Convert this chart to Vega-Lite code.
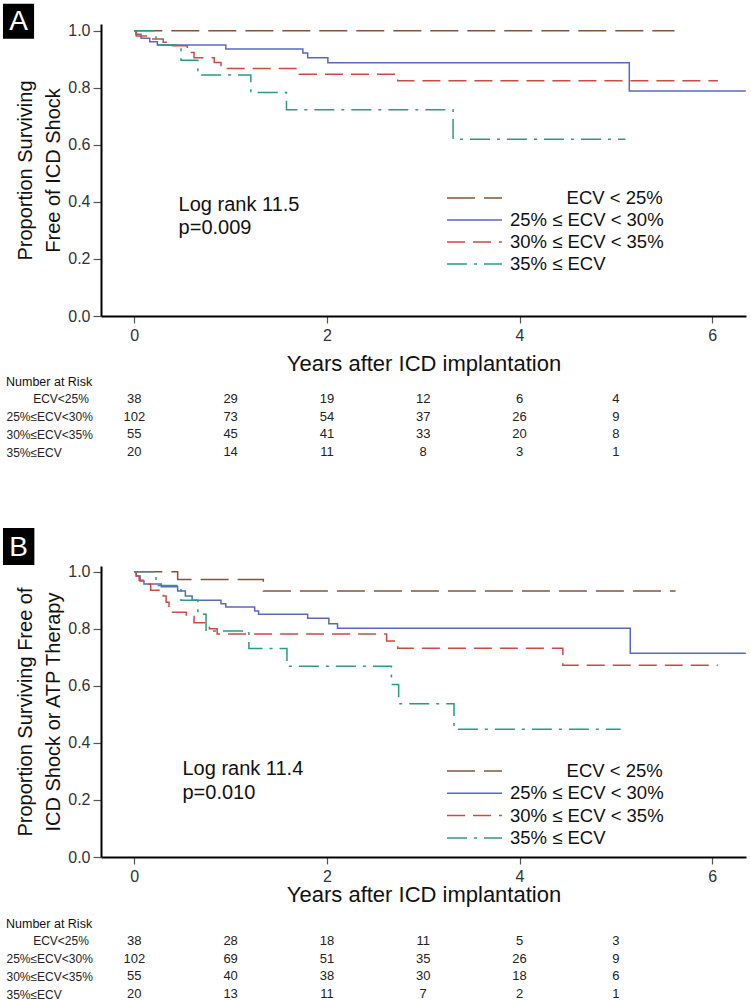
{
  "$schema": "https://vega.github.io/schema/vega-lite/v6.json",
  "padding": {"left": 2, "top": 3, "right": 0, "bottom": 0},
  "background": "white",
  "datasets": {
    "km": [
      {"panel": "A", "group": "ECV < 25%", "t": 0, "s": 1},
      {"panel": "A", "group": "ECV < 25%", "t": 5.61, "s": 1},
      {"panel": "A", "group": "25% ≤ ECV < 30%", "t": 0, "s": 1},
      {"panel": "A", "group": "25% ≤ ECV < 30%", "t": 0.017, "s": 0.988},
      {"panel": "A", "group": "25% ≤ ECV < 30%", "t": 0.07, "s": 0.974},
      {"panel": "A", "group": "25% ≤ ECV < 30%", "t": 0.16, "s": 0.962},
      {"panel": "A", "group": "25% ≤ ECV < 30%", "t": 0.24, "s": 0.95},
      {"panel": "A", "group": "25% ≤ ECV < 30%", "t": 0.95, "s": 0.936},
      {"panel": "A", "group": "25% ≤ ECV < 30%", "t": 1.75, "s": 0.922},
      {"panel": "A", "group": "25% ≤ ECV < 30%", "t": 1.8, "s": 0.906},
      {"panel": "A", "group": "25% ≤ ECV < 30%", "t": 2.01, "s": 0.888},
      {"panel": "A", "group": "25% ≤ ECV < 30%", "t": 5.14, "s": 0.789},
      {"panel": "A", "group": "25% ≤ ECV < 30%", "t": 6.35, "s": 0.789},
      {"panel": "A", "group": "30% ≤ ECV < 35%", "t": 0, "s": 1},
      {"panel": "A", "group": "30% ≤ ECV < 35%", "t": 0.02, "s": 0.982},
      {"panel": "A", "group": "30% ≤ ECV < 35%", "t": 0.17, "s": 0.971},
      {"panel": "A", "group": "30% ≤ ECV < 35%", "t": 0.3, "s": 0.96},
      {"panel": "A", "group": "30% ≤ ECV < 35%", "t": 0.36, "s": 0.948},
      {"panel": "A", "group": "30% ≤ ECV < 35%", "t": 0.55, "s": 0.924},
      {"panel": "A", "group": "30% ≤ ECV < 35%", "t": 0.62, "s": 0.906},
      {"panel": "A", "group": "30% ≤ ECV < 35%", "t": 0.83, "s": 0.889},
      {"panel": "A", "group": "30% ≤ ECV < 35%", "t": 0.9, "s": 0.868},
      {"panel": "A", "group": "30% ≤ ECV < 35%", "t": 1.71, "s": 0.848},
      {"panel": "A", "group": "30% ≤ ECV < 35%", "t": 2.735, "s": 0.825},
      {"panel": "A", "group": "30% ≤ ECV < 35%", "t": 6.06, "s": 0.825},
      {"panel": "A", "group": "35% ≤ ECV", "t": 0, "s": 1},
      {"panel": "A", "group": "35% ≤ ECV", "t": 0.225, "s": 0.95},
      {"panel": "A", "group": "35% ≤ ECV", "t": 0.485, "s": 0.897},
      {"panel": "A", "group": "35% ≤ ECV", "t": 0.66, "s": 0.845},
      {"panel": "A", "group": "35% ≤ ECV", "t": 1.21, "s": 0.784},
      {"panel": "A", "group": "35% ≤ ECV", "t": 1.58, "s": 0.723},
      {"panel": "A", "group": "35% ≤ ECV", "t": 3.31, "s": 0.62},
      {"panel": "A", "group": "35% ≤ ECV", "t": 5.1, "s": 0.62},
      {"panel": "B", "group": "ECV < 25%", "t": 0, "s": 1},
      {"panel": "B", "group": "ECV < 25%", "t": 0.45, "s": 0.973},
      {"panel": "B", "group": "ECV < 25%", "t": 1.34, "s": 0.932},
      {"panel": "B", "group": "ECV < 25%", "t": 5.62, "s": 0.932},
      {"panel": "B", "group": "25% ≤ ECV < 30%", "t": 0, "s": 1},
      {"panel": "B", "group": "25% ≤ ECV < 30%", "t": 0.02, "s": 0.985},
      {"panel": "B", "group": "25% ≤ ECV < 30%", "t": 0.06, "s": 0.967},
      {"panel": "B", "group": "25% ≤ ECV < 30%", "t": 0.1, "s": 0.957},
      {"panel": "B", "group": "25% ≤ ECV < 30%", "t": 0.28, "s": 0.947},
      {"panel": "B", "group": "25% ≤ ECV < 30%", "t": 0.45, "s": 0.932},
      {"panel": "B", "group": "25% ≤ ECV < 30%", "t": 0.53, "s": 0.915},
      {"panel": "B", "group": "25% ≤ ECV < 30%", "t": 0.6, "s": 0.9},
      {"panel": "B", "group": "25% ≤ ECV < 30%", "t": 0.9, "s": 0.888},
      {"panel": "B", "group": "25% ≤ ECV < 30%", "t": 0.95, "s": 0.876},
      {"panel": "B", "group": "25% ≤ ECV < 30%", "t": 1.25, "s": 0.862},
      {"panel": "B", "group": "25% ≤ ECV < 30%", "t": 1.29, "s": 0.851},
      {"panel": "B", "group": "25% ≤ ECV < 30%", "t": 1.8, "s": 0.837},
      {"panel": "B", "group": "25% ≤ ECV < 30%", "t": 2.02, "s": 0.818},
      {"panel": "B", "group": "25% ≤ ECV < 30%", "t": 2.11, "s": 0.802},
      {"panel": "B", "group": "25% ≤ ECV < 30%", "t": 5.15, "s": 0.714},
      {"panel": "B", "group": "25% ≤ ECV < 30%", "t": 6.35, "s": 0.714},
      {"panel": "B", "group": "30% ≤ ECV < 35%", "t": 0, "s": 1},
      {"panel": "B", "group": "30% ≤ ECV < 35%", "t": 0.02, "s": 0.985},
      {"panel": "B", "group": "30% ≤ ECV < 35%", "t": 0.05, "s": 0.97},
      {"panel": "B", "group": "30% ≤ ECV < 35%", "t": 0.1, "s": 0.956},
      {"panel": "B", "group": "30% ≤ ECV < 35%", "t": 0.17, "s": 0.935},
      {"panel": "B", "group": "30% ≤ ECV < 35%", "t": 0.3, "s": 0.915},
      {"panel": "B", "group": "30% ≤ ECV < 35%", "t": 0.33, "s": 0.893},
      {"panel": "B", "group": "30% ≤ ECV < 35%", "t": 0.36, "s": 0.858},
      {"panel": "B", "group": "30% ≤ ECV < 35%", "t": 0.54, "s": 0.843},
      {"panel": "B", "group": "30% ≤ ECV < 35%", "t": 0.62, "s": 0.821},
      {"panel": "B", "group": "30% ≤ ECV < 35%", "t": 0.78, "s": 0.8},
      {"panel": "B", "group": "30% ≤ ECV < 35%", "t": 0.86, "s": 0.782},
      {"panel": "B", "group": "30% ≤ ECV < 35%", "t": 2.62, "s": 0.757},
      {"panel": "B", "group": "30% ≤ ECV < 35%", "t": 2.735, "s": 0.732},
      {"panel": "B", "group": "30% ≤ ECV < 35%", "t": 4.45, "s": 0.672},
      {"panel": "B", "group": "30% ≤ ECV < 35%", "t": 6.06, "s": 0.672},
      {"panel": "B", "group": "35% ≤ ECV", "t": 0, "s": 1},
      {"panel": "B", "group": "35% ≤ ECV", "t": 0.225, "s": 0.952},
      {"panel": "B", "group": "35% ≤ ECV", "t": 0.485, "s": 0.9},
      {"panel": "B", "group": "35% ≤ ECV", "t": 0.66, "s": 0.851},
      {"panel": "B", "group": "35% ≤ ECV", "t": 0.745, "s": 0.792},
      {"panel": "B", "group": "35% ≤ ECV", "t": 1.19, "s": 0.731},
      {"panel": "B", "group": "35% ≤ ECV", "t": 1.585, "s": 0.669},
      {"panel": "B", "group": "35% ≤ ECV", "t": 2.67, "s": 0.605},
      {"panel": "B", "group": "35% ≤ ECV", "t": 2.745, "s": 0.537},
      {"panel": "B", "group": "35% ≤ ECV", "t": 3.32, "s": 0.448},
      {"panel": "B", "group": "35% ≤ ECV", "t": 5.05, "s": 0.448}
    ],
    "risk": [
      {"panel": "A", "row": "ECV<25%", "t": 0, "n": 38},
      {"panel": "A", "row": "ECV<25%", "t": 1, "n": 29},
      {"panel": "A", "row": "ECV<25%", "t": 2, "n": 19},
      {"panel": "A", "row": "ECV<25%", "t": 3, "n": 12},
      {"panel": "A", "row": "ECV<25%", "t": 4, "n": 6},
      {"panel": "A", "row": "ECV<25%", "t": 5, "n": 4},
      {"panel": "A", "row": "25%≤ECV<30%", "t": 0, "n": 102},
      {"panel": "A", "row": "25%≤ECV<30%", "t": 1, "n": 73},
      {"panel": "A", "row": "25%≤ECV<30%", "t": 2, "n": 54},
      {"panel": "A", "row": "25%≤ECV<30%", "t": 3, "n": 37},
      {"panel": "A", "row": "25%≤ECV<30%", "t": 4, "n": 26},
      {"panel": "A", "row": "25%≤ECV<30%", "t": 5, "n": 9},
      {"panel": "A", "row": "30%≤ECV<35%", "t": 0, "n": 55},
      {"panel": "A", "row": "30%≤ECV<35%", "t": 1, "n": 45},
      {"panel": "A", "row": "30%≤ECV<35%", "t": 2, "n": 41},
      {"panel": "A", "row": "30%≤ECV<35%", "t": 3, "n": 33},
      {"panel": "A", "row": "30%≤ECV<35%", "t": 4, "n": 20},
      {"panel": "A", "row": "30%≤ECV<35%", "t": 5, "n": 8},
      {"panel": "A", "row": "35%≤ECV", "t": 0, "n": 20},
      {"panel": "A", "row": "35%≤ECV", "t": 1, "n": 14},
      {"panel": "A", "row": "35%≤ECV", "t": 2, "n": 11},
      {"panel": "A", "row": "35%≤ECV", "t": 3, "n": 8},
      {"panel": "A", "row": "35%≤ECV", "t": 4, "n": 3},
      {"panel": "A", "row": "35%≤ECV", "t": 5, "n": 1},
      {"panel": "B", "row": "ECV<25%", "t": 0, "n": 38},
      {"panel": "B", "row": "ECV<25%", "t": 1, "n": 28},
      {"panel": "B", "row": "ECV<25%", "t": 2, "n": 18},
      {"panel": "B", "row": "ECV<25%", "t": 3, "n": 11},
      {"panel": "B", "row": "ECV<25%", "t": 4, "n": 5},
      {"panel": "B", "row": "ECV<25%", "t": 5, "n": 3},
      {"panel": "B", "row": "25%≤ECV<30%", "t": 0, "n": 102},
      {"panel": "B", "row": "25%≤ECV<30%", "t": 1, "n": 69},
      {"panel": "B", "row": "25%≤ECV<30%", "t": 2, "n": 51},
      {"panel": "B", "row": "25%≤ECV<30%", "t": 3, "n": 35},
      {"panel": "B", "row": "25%≤ECV<30%", "t": 4, "n": 26},
      {"panel": "B", "row": "25%≤ECV<30%", "t": 5, "n": 9},
      {"panel": "B", "row": "30%≤ECV<35%", "t": 0, "n": 55},
      {"panel": "B", "row": "30%≤ECV<35%", "t": 1, "n": 40},
      {"panel": "B", "row": "30%≤ECV<35%", "t": 2, "n": 38},
      {"panel": "B", "row": "30%≤ECV<35%", "t": 3, "n": 30},
      {"panel": "B", "row": "30%≤ECV<35%", "t": 4, "n": 18},
      {"panel": "B", "row": "30%≤ECV<35%", "t": 5, "n": 6},
      {"panel": "B", "row": "35%≤ECV", "t": 0, "n": 20},
      {"panel": "B", "row": "35%≤ECV", "t": 1, "n": 13},
      {"panel": "B", "row": "35%≤ECV", "t": 2, "n": 11},
      {"panel": "B", "row": "35%≤ECV", "t": 3, "n": 7},
      {"panel": "B", "row": "35%≤ECV", "t": 4, "n": 2},
      {"panel": "B", "row": "35%≤ECV", "t": 5, "n": 1}
    ],
    "notes": [
      {"panel": "A", "letter": "A", "stat": "Log rank 11.5\np=0.009"},
      {"panel": "B", "letter": "B", "stat": "Log rank 11.4\np=0.010"}
    ]
  },
  "spacing": 67,
  "vconcat": [
    {
      "spacing": 1,
      "vconcat": [
        {
          "width": 645,
          "height": 292,
          "layer": [
            {
              "data": {"name": "km"},
              "transform": [{"filter": "datum.panel == 'A'"}],
              "mark": {"type": "line", "interpolate": "step-after", "strokeWidth": 1.5},
              "encoding": {
                "x": {"field": "t", "type": "quantitative", "scale": {"domain": [-0.346, 6.352], "nice": false, "zero": false},
                  "axis": {"values": [0, 2, 4, 6], "format": "d", "title": "Years after ICD implantation", "titleFontSize": 22, "titlePadding": 10, "labelPadding": 4}},
                "y": {"field": "s", "type": "quantitative", "scale": {"domain": [0, 1.024], "nice": false},
                  "axis": {"values": [0, 0.2, 0.4, 0.6, 0.8, 1], "format": ".1f", "title": ["Proportion Surviving", "Free of ICD Shock"], "titleFontSize": 20, "titleLineHeight": 28, "titlePadding": 4, "tickSize": 8, "labelPadding": 3}},
                "stroke": {"field": "group", "type": "nominal",
                  "scale": {"domain": ["ECV < 25%", "25% ≤ ECV < 30%", "30% ≤ ECV < 35%", "35% ≤ ECV"], "range": ["#82553a", "#5868c0", "#cc4a42", "#2a9a82"]},
                  "legend": {"orient": "none", "legendX": 361.5, "legendY": 162, "title": null, "symbolType": "M-2.5,0H2.5", "symbolSize": 484, "symbolStrokeWidth": 1.5, "labelFontSize": 18.5, "labelColor": "#111", "labelOffset": 23.5, "rowPadding": 0, "padding": 0,
                    "labelExpr": "datum.label == 'ECV < 25%' ? '\u200b\u00a0\u00a0\u00a0\u00a0\u00a0\u00a0\u00a0\u00a0\u00a0\u00a0\u00a0' + datum.label : datum.label"}},
                "strokeDash": {"field": "group", "type": "nominal",
                  "scale": {"domain": ["ECV < 25%", "25% ≤ ECV < 30%", "30% ≤ ECV < 35%", "35% ≤ ECV"], "range": [[28, 9], [1, 0], [18, 8], [20, 7, 3, 7]]},
                  "legend": {"orient": "none", "legendX": 361.5, "legendY": 162, "title": null, "symbolType": "M-2.5,0H2.5", "symbolSize": 484, "symbolStrokeWidth": 1.5, "labelFontSize": 18.5, "labelColor": "#111", "labelOffset": 23.5, "rowPadding": 0, "padding": 0,
                    "labelExpr": "datum.label == 'ECV < 25%' ? '\u200b\u00a0\u00a0\u00a0\u00a0\u00a0\u00a0\u00a0\u00a0\u00a0\u00a0\u00a0' + datum.label : datum.label"}}
              }
            },
            {
              "data": {"name": "notes"},
              "transform": [{"filter": "datum.panel == 'A'"}],
              "mark": {"type": "text", "align": "left", "baseline": "alphabetic", "fontSize": 20, "lineHeight": 23, "lineBreak": "\n", "color": "#111"},
              "encoding": {"x": {"datum": 0.46}, "y": {"datum": 0.368}, "text": {"field": "stat"}}
            },
            {
              "data": {"name": "notes"},
              "transform": [{"filter": "datum.panel == 'A'"}],
              "mark": {"type": "rect", "color": "#000"},
              "encoding": {"x": {"datum": -1.364}, "x2": {"datum": -1.041}, "y": {"datum": 1.095}, "y2": {"datum": 0.972}}
            },
            {
              "data": {"name": "notes"},
              "transform": [{"filter": "datum.panel == 'A'"}],
              "mark": {"type": "text", "align": "center", "baseline": "middle", "fontSize": 28, "color": "#fff", "dy": 1},
              "encoding": {"x": {"datum": -1.2025}, "y": {"datum": 1.034}, "text": {"field": "letter"}}
            }
          ]
        },
        {
          "width": 645,
          "height": 71,
          "title": {"text": "Number at Risk", "anchor": "start", "frame": "bounds", "fontSize": 12.5, "fontWeight": "normal", "font": "Liberation Sans", "color": "#111", "offset": 2},
          "data": {"name": "risk"},
          "transform": [{"filter": "datum.panel == 'A'"}],
          "mark": {"type": "text", "fontSize": 13, "font": "Liberation Sans", "color": "#222"},
          "encoding": {
            "x": {"field": "t", "type": "quantitative", "scale": {"domain": [-0.346, 6.352], "nice": false, "zero": false}, "axis": null},
            "y": {"field": "row", "type": "nominal", "sort": ["ECV<25%", "25%≤ECV<30%", "30%≤ECV<35%", "35%≤ECV"],
              "axis": {"title": null, "domain": false, "ticks": false, "labelAlign": "left", "labelPadding": 95, "labelFontSize": 12, "labelFont": "Liberation Sans", "labelColor": "#222",
                "labelExpr": "datum.label == 'ECV<25%' ? '\u200b\u00a0\u00a0\u00a0\u00a0\u00a0\u00a0\u00a0\u00a0' + datum.label : datum.label"}},
            "text": {"field": "n", "type": "quantitative"}
          }
        }
      ]
    },
    {
      "spacing": 12,
      "vconcat": [
        {
          "width": 645,
          "height": 291,
          "layer": [
            {
              "data": {"name": "km"},
              "transform": [{"filter": "datum.panel == 'B'"}],
              "mark": {"type": "line", "interpolate": "step-after", "strokeWidth": 1.5},
              "encoding": {
                "x": {"field": "t", "type": "quantitative", "scale": {"domain": [-0.346, 6.352], "nice": false, "zero": false},
                  "axis": {"values": [0, 2, 4, 6], "format": "d", "title": "Years after ICD implantation", "titleFontSize": 22, "titlePadding": 0, "labelPadding": 4}},
                "y": {"field": "s", "type": "quantitative", "scale": {"domain": [0, 1.02], "nice": false},
                  "axis": {"values": [0, 0.2, 0.4, 0.6, 0.8, 1], "format": ".1f", "title": ["Proportion Surviving Free of", "ICD Shock or ATP Therapy"], "titleFontSize": 20, "titleLineHeight": 28, "titlePadding": 4, "tickSize": 8, "labelPadding": 3}},
                "stroke": {"field": "group", "type": "nominal",
                  "scale": {"domain": ["ECV < 25%", "25% ≤ ECV < 30%", "30% ≤ ECV < 35%", "35% ≤ ECV"], "range": ["#82553a", "#5868c0", "#cc4a42", "#2a9a82"]},
                  "legend": {"orient": "none", "legendX": 361.5, "legendY": 193, "title": null, "symbolType": "M-2.5,0H2.5", "symbolSize": 484, "symbolStrokeWidth": 1.5, "labelFontSize": 18.5, "labelColor": "#111", "labelOffset": 23.5, "rowPadding": 0.3, "padding": 0,
                    "labelExpr": "datum.label == 'ECV < 25%' ? '\u200b\u00a0\u00a0\u00a0\u00a0\u00a0\u00a0\u00a0\u00a0\u00a0\u00a0\u00a0' + datum.label : datum.label"}},
                "strokeDash": {"field": "group", "type": "nominal",
                  "scale": {"domain": ["ECV < 25%", "25% ≤ ECV < 30%", "30% ≤ ECV < 35%", "35% ≤ ECV"], "range": [[28, 9], [1, 0], [18, 8], [20, 7, 3, 7]]},
                  "legend": {"orient": "none", "legendX": 361.5, "legendY": 193, "title": null, "symbolType": "M-2.5,0H2.5", "symbolSize": 484, "symbolStrokeWidth": 1.5, "labelFontSize": 18.5, "labelColor": "#111", "labelOffset": 23.5, "rowPadding": 0.3, "padding": 0,
                    "labelExpr": "datum.label == 'ECV < 25%' ? '\u200b\u00a0\u00a0\u00a0\u00a0\u00a0\u00a0\u00a0\u00a0\u00a0\u00a0\u00a0' + datum.label : datum.label"}}
              }
            },
            {
              "data": {"name": "notes"},
              "transform": [{"filter": "datum.panel == 'B'"}],
              "mark": {"type": "text", "align": "left", "baseline": "alphabetic", "fontSize": 20, "lineHeight": 24, "lineBreak": "\n", "color": "#111"},
              "encoding": {"x": {"datum": 0.5}, "y": {"datum": 0.287}, "text": {"field": "stat"}}
            },
            {
              "data": {"name": "notes"},
              "transform": [{"filter": "datum.panel == 'B'"}],
              "mark": {"type": "rect", "color": "#000"},
              "encoding": {"x": {"datum": -1.364}, "x2": {"datum": -1.038}, "y": {"datum": 1.153}, "y2": {"datum": 1.0235}}
            },
            {
              "data": {"name": "notes"},
              "transform": [{"filter": "datum.panel == 'B'"}],
              "mark": {"type": "text", "align": "center", "baseline": "middle", "fontSize": 28, "color": "#fff", "dy": 1},
              "encoding": {"x": {"datum": -1.201}, "y": {"datum": 1.088}, "text": {"field": "letter"}}
            }
          ]
        },
        {
          "width": 645,
          "height": 71,
          "title": {"text": "Number at Risk", "anchor": "start", "frame": "bounds", "fontSize": 12.5, "fontWeight": "normal", "font": "Liberation Sans", "color": "#111", "offset": 2},
          "data": {"name": "risk"},
          "transform": [{"filter": "datum.panel == 'B'"}],
          "mark": {"type": "text", "fontSize": 13, "font": "Liberation Sans", "color": "#222"},
          "encoding": {
            "x": {"field": "t", "type": "quantitative", "scale": {"domain": [-0.346, 6.352], "nice": false, "zero": false}, "axis": null},
            "y": {"field": "row", "type": "nominal", "sort": ["ECV<25%", "25%≤ECV<30%", "30%≤ECV<35%", "35%≤ECV"],
              "axis": {"title": null, "domain": false, "ticks": false, "labelAlign": "left", "labelPadding": 95, "labelFontSize": 12, "labelFont": "Liberation Sans", "labelColor": "#222",
                "labelExpr": "datum.label == 'ECV<25%' ? '\u200b\u00a0\u00a0\u00a0\u00a0\u00a0\u00a0\u00a0\u00a0' + datum.label : datum.label"}},
            "text": {"field": "n", "type": "quantitative"}
          }
        }
      ]
    }
  ],
  "resolve": {
    "scale": {"stroke": "independent", "strokeDash": "independent"},
    "legend": {"stroke": "independent", "strokeDash": "independent"}
  },
  "config": {
    "font": "Liberation Sans",
    "view": {"stroke": null},
    "axis": {"grid": false, "domainColor": "#000", "domainWidth": 2, "tickColor": "#555", "tickWidth": 1.2, "tickSize": 7, "labelFontSize": 16, "labelColor": "#333", "titleFontWeight": "normal", "titleColor": "#111"}
  }
}
